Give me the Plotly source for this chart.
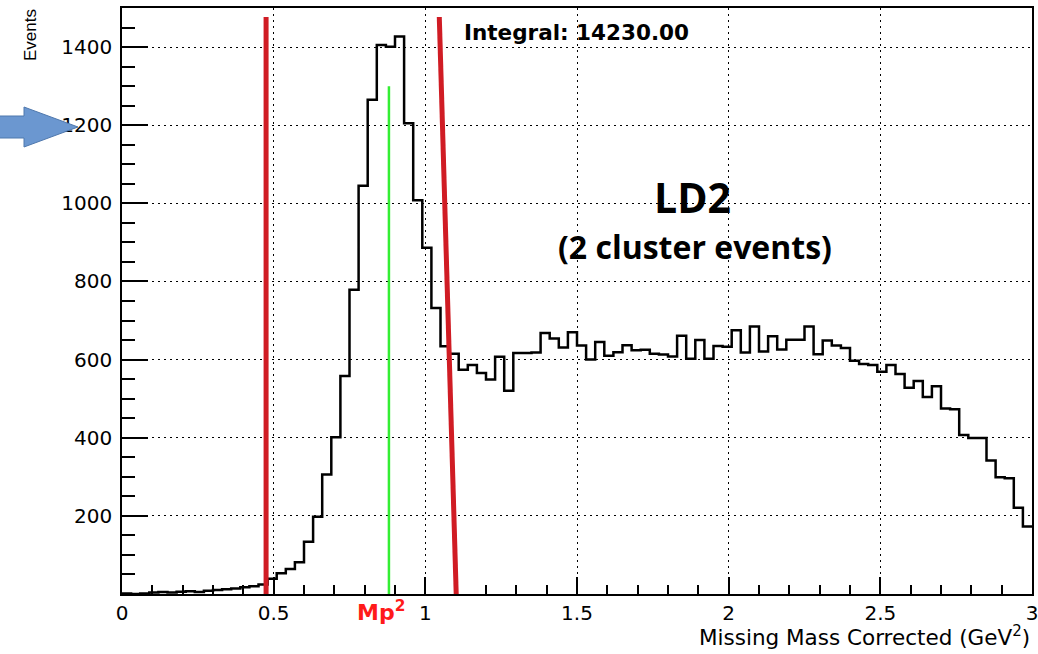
import numpy as np
import plotly.graph_objects as go

# ---- data ----
x_min, x_max, n_bins = 0.0, 3.0, 100
counts = [1, 0, 1, 4, 5, 4, 6, 7, 5, 8, 10, 12, 14, 17, 20, 24, 39,
          53, 64, 81, 134, 198, 306, 401, 558, 779, 1045, 1265, 1405, 1401, 1427, 1205, 1008, 886,
          732, 634, 615, 574, 586, 566, 549, 607, 520, 617, 617, 618, 668, 654, 631, 670,
          636, 600, 645, 610, 619, 637, 624, 625, 615, 613, 608, 661, 602, 650, 602, 635, 633,
          675, 618, 685, 621, 660, 626, 651, 651, 685, 614, 649, 636, 630, 597, 589, 586, 569,
          586, 563, 528, 545, 504, 532, 475, 473, 407, 399, 399, 342, 299, 296, 221, 173]
x_ticks = [0, 0.5, 1, 1.5, 2, 2.5, 3]
x_ticktext = ["0", "0.5", "1", "1.5", "2", "2.5", "3"]
y_ticks = [200, 400, 600, 800, 1000, 1200, 1400]
y_ticktext = ["200", "400", "600", "800", "1000", "1200", "1400"]
integral_text = "Integral: 14230.00"
mp2 = 0.880          # proton mass squared (GeV^2)
mp2_top = 1300
cut_left = 0.475      # vertical cut line
cut_right = (1.046, 1.102)  # slanted cut line (top x, bottom x)
cut_top = 1477

edges = np.linspace(x_min, x_max, n_bins + 1)
xs = list(edges)
ys = counts + [counts[-1]]

W, H = 1038, 654
L, R, T, B = 122, 6, 8, 60
pw, ph = W - L - R, H - T - B


def px(xp):
    return (xp - L) / pw


def py(yp):
    return (H - B - yp) / ph


fig = go.Figure()
fig.add_trace(go.Scatter(x=xs, y=ys, mode="lines", line_shape="hv",
                         line=dict(color="black", width=2.5), hoverinfo="skip",
                         showlegend=False))

red = "#d01c24"
shapes = [
    dict(type="line", xref="x", yref="y", x0=cut_left, x1=cut_left, y0=cut_top, y1=-6,
         line=dict(color=red, width=5)),
    dict(type="line", xref="x", yref="y", x0=cut_right[0], x1=cut_right[1], y0=cut_top, y1=-6,
         line=dict(color=red, width=5)),
    dict(type="line", xref="x", yref="y", x0=mp2, x1=mp2, y0=mp2_top, y1=0,
         line=dict(color="#33ee33", width=2.5)),
    # blue arrow pointing at the y axis (slide overlay)
    dict(type="path", xref="paper", yref="paper",
         path=(f"M {px(-2)},{py(116)} L {px(24)},{py(116)} L {px(24)},{py(107)} "
               f"L {px(78)},{py(127)} L {px(24)},{py(147)} L {px(24)},{py(138)} "
               f"L {px(-2)},{py(138)} Z"),
         fillcolor="#6b97d0", line=dict(color="#4f78ad", width=1)),
]

annotations = [
    dict(text=f"<b>{integral_text}</b>", x=px(462), y=py(33), xref="paper", yref="paper",
         xanchor="left", yanchor="middle", showarrow=False,
         font=dict(family="DejaVu Sans", size=21.5, color="black")),
    dict(text="<b>LD2</b>", x=px(692), y=py(197), xref="paper", yref="paper",
         xanchor="center", yanchor="middle", showarrow=False,
         font=dict(family="Open Sans", size=41, color="black")),
    dict(text="<b>(2 cluster events)</b>", x=px(695), y=py(246), xref="paper", yref="paper",
         xanchor="center", yanchor="middle", showarrow=False,
         font=dict(family="Open Sans", size=32, color="black")),
    dict(text="<b>Mp<sup>2</sup></b>", x=px(381), y=py(611), xref="paper", yref="paper",
         xanchor="center", yanchor="middle", showarrow=False,
         font=dict(family="DejaVu Sans", size=22, color="#ff1a1a")),
    dict(text="Missing Mass Corrected (GeV<sup>2</sup>)", x=1.0, y=py(636), xref="paper", yref="paper",
         xanchor="right", yanchor="middle", showarrow=False,
         font=dict(family="DejaVu Sans", size=21.5, color="black")),
    dict(text="Events", x=px(30), y=py(7), xref="paper", yref="paper",
         xanchor="center", yanchor="top", showarrow=False, textangle=-90,
         font=dict(family="Liberation Sans", size=17, color="black")),
]

fig.update_layout(
    width=W, height=H,
    margin=dict(l=L, r=R, t=T, b=B),
    paper_bgcolor="white", plot_bgcolor="white",
    shapes=shapes, annotations=annotations,
    showlegend=False,
    xaxis=dict(range=[x_min, x_max], tickvals=x_ticks, ticktext=x_ticktext,
               ticks="inside", ticklen=17, tickwidth=1.5, tickcolor="black",
               showline=True, linecolor="black", linewidth=1.5, mirror=True,
               showgrid=True, gridcolor="black", gridwidth=1, griddash="2px,4px",
               zeroline=False, automargin=False, ticklabeloverflow="allow",
               tickfont=dict(family="DejaVu Sans", size=20, color="black"),
               minor=dict(dtick=0.1, tick0=0, ticks="inside", ticklen=9,
                          tickwidth=1.5, tickcolor="black", showgrid=False)),
    yaxis=dict(range=[0, 1500], tickvals=y_ticks, ticktext=y_ticktext,
               ticks="inside", ticklen=26, tickwidth=1.5, tickcolor="black",
               showline=True, linecolor="black", linewidth=1.5, mirror=True,
               showgrid=True, gridcolor="black", gridwidth=1, griddash="2px,4px",
               zeroline=False, ticklabelstandoff=4, automargin=False,
               ticklabeloverflow="allow",
               tickfont=dict(family="DejaVu Sans", size=20, color="black"),
               minor=dict(dtick=50, tick0=0, ticks="inside", ticklen=13,
                          tickwidth=1.5, tickcolor="black", showgrid=False)),
)

fig.write_html("out.html")
